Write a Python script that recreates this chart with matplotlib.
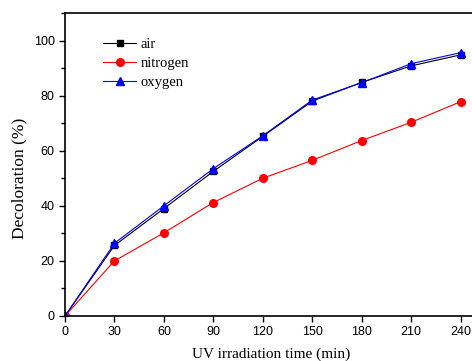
import numpy as np
import matplotlib
matplotlib.use("Agg")
import matplotlib.pyplot as plt
from matplotlib.ticker import MultipleLocator

# Data
time = [0, 30, 60, 90, 120, 150, 180, 210, 240]
air = [0, 25.6, 39.0, 52.5, 65.2, 78.0, 84.8, 90.8, 94.8]
nitrogen = [0, 20.0, 30.2, 41.2, 50.0, 56.5, 63.7, 70.3, 77.8]
oxygen = [0, 26.4, 40.0, 53.5, 65.4, 78.4, 84.7, 91.6, 95.6]

fig = plt.figure(figsize=(4.72, 3.61), dpi=100)
ax = fig.add_axes([65 / 472, 45 / 361, 412 / 472, 303 / 361])

ax.plot(time, air, color="black", lw=0.8, marker="s", ms=5, label="air")
ax.plot(time, nitrogen, color="red", lw=0.8, marker="o", ms=5.5, label="nitrogen")
ax.plot(time, oxygen, color="blue", lw=0.8, marker="^", ms=6, label="oxygen")

ax.set_xlim(0, 250)
ax.set_ylim(0, 110)
ax.xaxis.set_major_locator(MultipleLocator(30))
ax.yaxis.set_major_locator(MultipleLocator(20))
ax.yaxis.set_minor_locator(MultipleLocator(10))
ax.tick_params(which="both", direction="out", width=1, labelsize=9)
ax.tick_params(which="major", length=4)
ax.tick_params(which="minor", length=3)
for lbl in ax.get_xticklabels() + ax.get_yticklabels():
    lbl.set_family("Liberation Sans")
for s in ax.spines.values():
    s.set_linewidth(1.2)

ax.set_xlabel("UV irradiation time (min)", family="Liberation Serif", fontsize=11)
ax.set_ylabel("Decoloration (%)", family="Liberation Serif", fontsize=12.5)
ax.xaxis.set_label_coords(0.5, -0.105)
ax.yaxis.set_label_coords(-0.092, 0.455)

ax.legend(loc="upper left", bbox_to_anchor=(0.06, 0.96), frameon=False,
          prop={"family": "Liberation Serif", "size": 10.5},
          handlelength=2.3, handletextpad=0.3, labelspacing=0.37)

fig.savefig("out.png", dpi=100)
